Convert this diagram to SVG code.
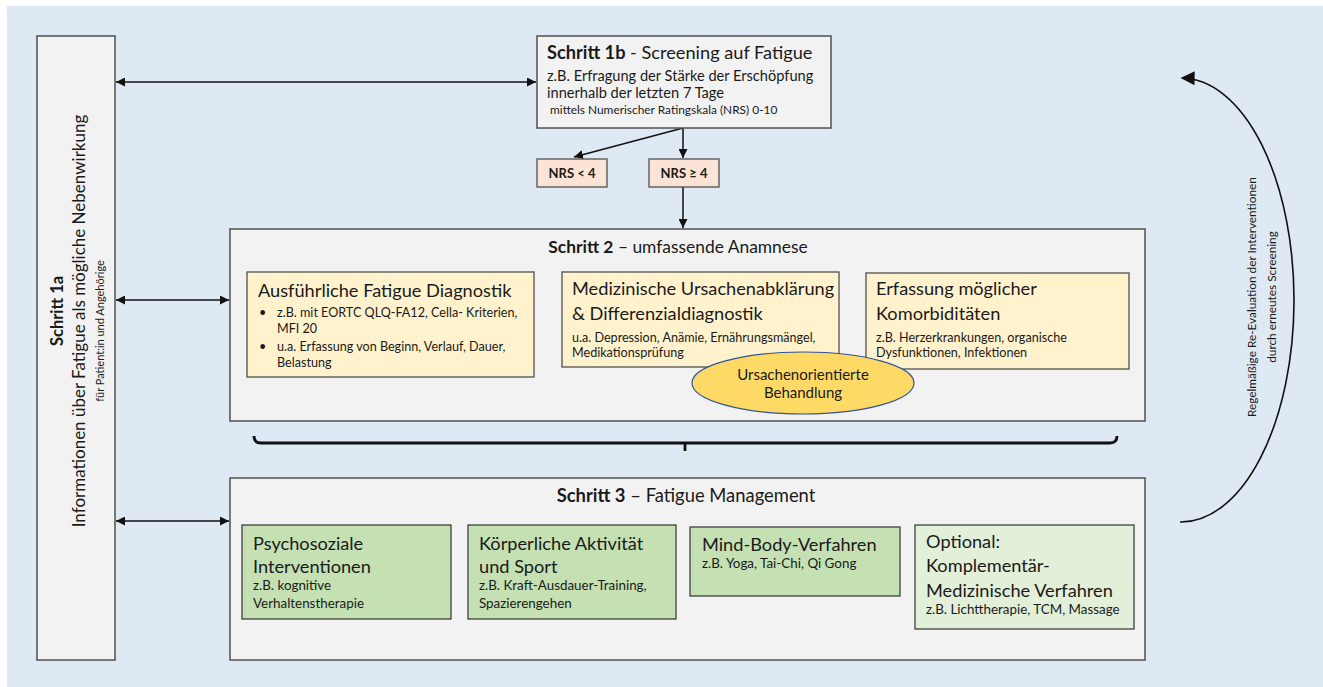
<svg xmlns="http://www.w3.org/2000/svg" width="1323" height="687" viewBox="0 0 1323 687">
<defs>
<marker id="ah" viewBox="0 0 10 10" refX="10" refY="5" markerWidth="9" markerHeight="9" markerUnits="userSpaceOnUse" orient="auto-start-reverse">
<path d="M0,0 L10,5 L0,10 z" fill="#111"/>
</marker>
<marker id="ahBig" viewBox="0 0 10 10" refX="9" refY="5" markerWidth="18" markerHeight="14" markerUnits="userSpaceOnUse" orient="auto">
<path d="M0,0 L10,5 L0,10 z" fill="#111"/>
</marker>
</defs>
<style>
text{font-family:Lato,"Liberation Sans",sans-serif;fill:#1a1a1a}
.gray{fill:#f2f2f2;stroke:#505050;stroke-width:1.5}
.yel{fill:#fff2cc;stroke:#505050;stroke-width:1.3}
.nrs{fill:#fbe4d5;stroke:#505050;stroke-width:1.3}
.grn{fill:#c5e0b3;stroke:#404040;stroke-width:1.3}
.lgrn{fill:#e2efd9;stroke:#404040;stroke-width:1.3}
.h{font-size:18.2px}
.s{font-size:14.6px}
.xs{font-size:11.9px}
.sm{font-size:12.6px}
.gs{font-size:13.4px}
.b{font-weight:bold}
.c{stroke:#111;stroke-width:1.5;fill:none}
</style>
<rect x="7" y="6" width="1316" height="681" fill="#dfe9f3"/>

<g id="connectors">
<line class="c" x1="116" y1="82" x2="536" y2="82" marker-start="url(#ah)" marker-end="url(#ah)"/>
<line class="c" x1="116" y1="300" x2="229" y2="300" marker-start="url(#ah)" marker-end="url(#ah)"/>
<line class="c" x1="116" y1="521" x2="229" y2="521" marker-start="url(#ah)" marker-end="url(#ah)"/>
<line class="c" x1="683" y1="128" x2="683" y2="158" marker-end="url(#ah)"/>
<line class="c" x1="683" y1="128" x2="574" y2="157" marker-end="url(#ah)"/>
<line class="c" x1="683" y1="187" x2="683" y2="228" marker-end="url(#ah)"/>
<path d="M254,436 Q254,443 261,443 L1110,443 Q1117,443 1117,436" fill="none" stroke="#111" stroke-width="2.8"/>
<line x1="685" y1="443" x2="685" y2="451" stroke="#111" stroke-width="2.8"/>
<path d="M1180,522 A113,222 0 0 0 1182,78" fill="none" stroke="#111" stroke-width="1.6" marker-end="url(#ahBig)"/>
</g>

<g id="schritt1a">
<rect class="gray" x="37" y="36" width="78" height="624"/>
<text class="b" font-size="16.5" transform="translate(63,311) rotate(-90)" text-anchor="middle">Schritt 1a</text>
<text font-size="17" transform="translate(85,321) rotate(-90)" text-anchor="middle">Informationen über Fatigue als mögliche Nebenwirkung</text>
<text font-size="11" transform="translate(104,331) rotate(-90)" text-anchor="middle">für Patient:in und Angehörige</text>
</g>

<g id="schritt1b">
<rect class="gray" x="537" y="36" width="294" height="92"/>
<text class="h" x="547" y="59"><tspan class="b">Schritt 1b</tspan> - Screening auf Fatigue</text>
<text class="s" x="547" y="81">z.B. Erfragung der Stärke der Erschöpfung</text>
<text class="s" x="547" y="98">innerhalb der letzten 7 Tage</text>
<text class="xs" x="550" y="114">mittels Numerischer Ratingskala (NRS) 0-10</text>
</g>

<g id="nrs-lt4">
<rect class="nrs" x="537" y="159" width="70" height="28"/>
<text class="b" font-size="13" x="572" y="178" text-anchor="middle">NRS &lt; 4</text>
</g>
<g id="nrs-ge4">
<rect class="nrs" x="649" y="159" width="70" height="28"/>
<text class="b" font-size="13" x="684" y="178" text-anchor="middle">NRS ≥ 4</text>
</g>

<g id="schritt2">
<rect class="gray" x="230" y="229" width="915" height="192"/>
<text font-size="17.4" x="678" y="253" text-anchor="middle"><tspan class="b">Schritt 2</tspan> – umfassende Anamnese</text>
</g>

<g id="diagnostik">
<rect class="yel" x="247" y="272" width="287" height="105"/>
<text class="h" x="258" y="297">Ausführliche Fatigue Diagnostik</text>
<text class="sm" x="259" y="317">•</text>
<text class="sm" x="277" y="317">z.B. mit EORTC QLQ-FA12, Cella- Kriterien,</text>
<text class="sm" x="277" y="333">MFI 20</text>
<text class="sm" x="259" y="351">•</text>
<text class="sm" x="277" y="351">u.a. Erfassung von Beginn, Verlauf, Dauer,</text>
<text class="sm" x="277" y="367">Belastung</text>
</g>

<g id="ursachen">
<rect class="yel" x="562" y="272" width="277" height="95"/>
<text class="h" x="572" y="295" font-size="17.4">Medizinische Ursachenabklärung</text>
<text class="h" x="572" y="320" font-size="17.4">&amp; Differenzialdiagnostik</text>
<text class="sm" x="572" y="342">u.a. Depression, Anämie, Ernährungsmängel,</text>
<text class="sm" x="572" y="357">Medikationsprüfung</text>
</g>

<g id="komorbid">
<rect class="yel" x="866" y="273" width="263" height="96"/>
<text class="h" x="876" y="295">Erfassung möglicher</text>
<text class="h" x="876" y="320">Komorbiditäten</text>
<text class="sm" x="876" y="342">z.B. Herzerkrankungen, organische</text>
<text class="sm" x="876" y="357">Dysfunktionen, Infektionen</text>
</g>

<g id="behandlung">
<ellipse cx="803" cy="383" rx="111" ry="31" fill="#ffd966" stroke="#2f5597" stroke-width="1.2"/>
<text font-size="15" x="803" y="380" text-anchor="middle">Ursachenorientierte</text>
<text font-size="15" x="803" y="398" text-anchor="middle">Behandlung</text>
</g>

<g id="schritt3">
<rect class="gray" x="230" y="478" width="915" height="182"/>
<text font-size="18.4" x="686" y="502" text-anchor="middle"><tspan class="b">Schritt 3</tspan> – Fatigue Management</text>
</g>

<g id="psychosozial">
<rect class="grn" x="242" y="525" width="209" height="94"/>
<text class="h" x="253" y="550">Psychosoziale</text>
<text class="h" x="253" y="573">Interventionen</text>
<text class="gs" x="253" y="590">z.B. kognitive</text>
<text class="gs" x="253" y="608">Verhaltenstherapie</text>
</g>

<g id="koerperlich">
<rect class="grn" x="468" y="525" width="208" height="94"/>
<text class="h" x="479" y="550">Körperliche Aktivität</text>
<text class="h" x="479" y="573">und Sport</text>
<text class="gs" x="479" y="590">z.B. Kraft-Ausdauer-Training,</text>
<text class="gs" x="479" y="608">Spazierengehen</text>
</g>

<g id="mindbody">
<rect class="grn" x="690" y="527" width="210" height="69"/>
<text class="h" x="702" y="551">Mind-Body-Verfahren</text>
<text class="gs" x="702" y="568">z.B. Yoga, Tai-Chi, Qi Gong</text>
</g>

<g id="komplementaer">
<rect class="lgrn" x="915" y="525" width="219" height="104"/>
<text class="h" x="926" y="548">Optional:</text>
<text class="h" x="926" y="572">Komplementär-</text>
<text class="h" x="926" y="597">Medizinische Verfahren</text>
<text class="gs" x="926" y="614">z.B. Lichttherapie, TCM, Massage</text>
</g>

<g id="reevaluation">
<text font-size="11.8" transform="translate(1256,297) rotate(-90)" text-anchor="middle">Regelmäßige Re-Evaluation der Interventionen</text>
<text font-size="11.8" transform="translate(1276,297) rotate(-90)" text-anchor="middle">durch erneutes Screening</text>
</g>
</svg>
